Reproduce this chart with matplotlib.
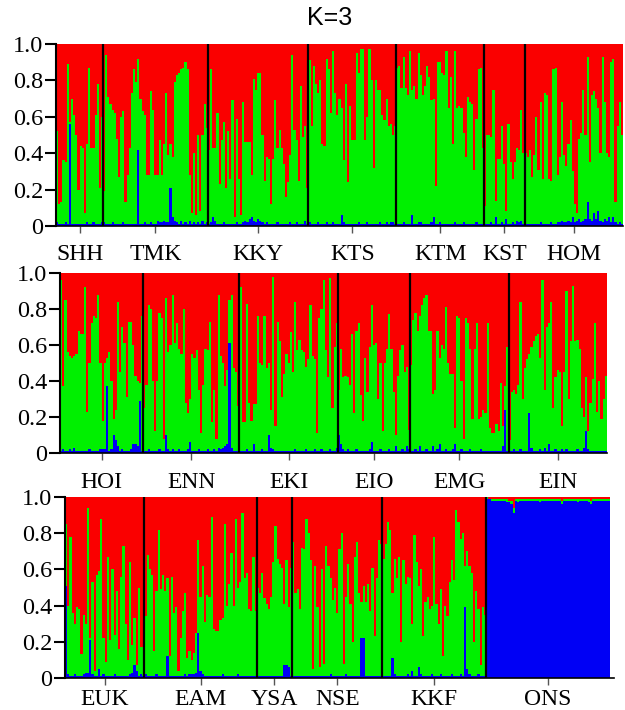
import numpy as np
import matplotlib
matplotlib.use("Agg")
import matplotlib.pyplot as plt

# ancestry proportions per individual: green = top of green segment (blue+green),
# blue = blue segment; red fills the rest up to 1.0

# ---- row 1 ----
SHH = [0.52, 0.12, 0.13, 0.36, 0.35, 0.89, 0.57, 0.70, 0.61, 0.50, 0.20, 0.44, 0.43, 0.07, 0.45, 0.87, 0.43, 0.43, 0.61, 0.78, 0.21, 0.60]
SHH_b = [0.02, 0.01, 0.01, 0.01, 0.02, 0.01, 0.56, 0.01, 0.01, 0.01, 0.01, 0.01, 0.01, 0.01, 0.02, 0.01, 0.01, 0.02, 0.01, 0.01, 0.01, 0.02]
TMK = [0.19, 0.94, 0.71, 0.67, 0.64, 0.62, 0.48, 0.27, 0.60, 0.63, 0.13, 0.28, 0.43, 0.73, 0.86, 0.79, 0.92, 0.70, 0.63, 0.61,
       0.28, 0.28, 0.74, 0.64, 0.28, 0.28, 0.47, 0.28, 0.45, 0.73, 0.39, 0.45, 0.38, 0.79, 0.83, 0.84, 0.86, 0.87, 0.90, 0.86,
       0.28, 0.07, 0.40, 0.06, 0.50, 0.08, 0.50, 0.67, 0.54]
TMK_b = [0.02, 0.01, 0.01, 0.01, 0.02, 0.01, 0.01, 0.01, 0.01, 0.02, 0.01, 0.01, 0.01, 0.01, 0.01, 0.01, 0.42, 0.01, 0.01, 0.02,
         0.01, 0.01, 0.02, 0.01, 0.01, 0.03, 0.02, 0.02, 0.03, 0.02, 0.02, 0.21, 0.05, 0.03, 0.02, 0.01, 0.03, 0.01, 0.02, 0.01,
         0.03, 0.01, 0.02, 0.01, 0.02, 0.01, 0.03, 0.01, 0.02]
KKY = [0.42, 0.86, 0.43, 0.43, 0.62, 0.23, 0.47, 0.57, 0.21, 0.52, 0.26, 0.69, 0.05, 0.59, 0.26, 0.06, 0.68, 0.46, 0.46, 0.46,
       0.28, 0.81, 0.75, 0.84, 0.84, 0.50, 0.25, 0.38, 0.37, 0.12, 0.37, 0.69, 0.43, 0.53, 0.43, 0.34, 0.16, 0.24, 0.39, 0.94,
       0.53, 0.47, 0.25, 0.77, 0.49, 0.55, 0.21]
KKY_b = [0.01, 0.02, 0.05, 0.03, 0.01, 0.01, 0.01, 0.02, 0.01, 0.01, 0.01, 0.01, 0.01, 0.02, 0.01, 0.01, 0.02, 0.03, 0.02, 0.04,
         0.05, 0.03, 0.02, 0.04, 0.03, 0.02, 0.01, 0.02, 0.01, 0.01, 0.01, 0.01, 0.02, 0.01, 0.01, 0.01, 0.01, 0.01, 0.02, 0.01,
         0.01, 0.02, 0.01, 0.01, 0.01, 0.03, 0.01]
KTS = [0.91, 0.55, 0.88, 0.78, 0.73, 0.80, 0.45, 0.44, 0.92, 0.86, 0.62, 0.96, 0.73, 0.61, 0.70, 0.65, 0.36, 0.78, 0.24, 0.66,
       0.47, 0.47, 0.95, 0.84, 0.97, 0.97, 0.47, 0.60, 0.97, 0.80, 0.32, 0.80, 0.75, 0.75, 0.61, 0.58, 0.70, 0.55, 0.56, 0.50, 0.55]
KTS_b = [0.02, 0.01, 0.01, 0.01, 0.02, 0.01, 0.01, 0.01, 0.02, 0.01, 0.01, 0.02, 0.01, 0.01, 0.01, 0.06, 0.02, 0.01, 0.01, 0.01,
         0.01, 0.01, 0.01, 0.02, 0.01, 0.01, 0.01, 0.02, 0.01, 0.01, 0.01, 0.01, 0.01, 0.02, 0.01, 0.01, 0.02, 0.01, 0.02, 0.02, 0.01]
KTM = [0.87, 0.88, 0.76, 0.93, 0.76, 0.72, 0.96, 0.75, 0.77, 0.70, 0.95, 0.83, 0.72, 0.77, 0.88, 0.82, 0.69, 0.70, 0.22, 0.90,
       0.90, 0.84, 0.83, 0.96, 0.65, 0.82, 0.45, 0.96, 0.65, 0.66, 0.65, 0.51, 0.38, 0.71, 0.68, 0.67, 0.31, 0.59, 0.86, 0.87, 0.43]
KTM_b = [0.01, 0.01, 0.01, 0.02, 0.01, 0.01, 0.01, 0.06, 0.01, 0.01, 0.02, 0.02, 0.01, 0.01, 0.01, 0.01, 0.02, 0.05, 0.01, 0.01,
         0.02, 0.01, 0.01, 0.01, 0.01, 0.01, 0.01, 0.02, 0.01, 0.01, 0.01, 0.02, 0.01, 0.01, 0.01, 0.01, 0.01, 0.02, 0.01, 0.01, 0.01]
KST = [0.11, 0.50, 0.50, 0.49, 0.75, 0.14, 0.37, 0.37, 0.55, 0.34, 0.08, 0.56, 0.35, 0.26, 0.35, 0.43, 0.42, 0.64, 0.40]
KST_b = [0.01, 0.01, 0.01, 0.02, 0.01, 0.05, 0.01, 0.01, 0.02, 0.01, 0.04, 0.01, 0.01, 0.02, 0.01, 0.03, 0.02, 0.03, 0.01]
HOM = [0.40, 0.38, 0.42, 0.27, 0.39, 0.60, 0.31, 0.68, 0.26, 0.73, 0.72, 0.26, 0.25, 0.86, 0.87, 0.28, 0.38, 0.68, 0.39, 0.33,
       0.45, 0.58, 0.30, 0.12, 0.07, 0.48, 0.51, 0.75, 0.50, 0.93, 0.35, 0.72, 0.74, 0.70, 0.65, 0.40, 0.93, 0.68, 0.40, 0.38,
       0.90, 0.92, 0.13, 0.55, 0.68, 0.50]
HOM_b = [0.01, 0.01, 0.01, 0.01, 0.01, 0.01, 0.01, 0.02, 0.01, 0.01, 0.01, 0.01, 0.02, 0.01, 0.01, 0.02, 0.02, 0.03, 0.02, 0.02,
         0.03, 0.02, 0.05, 0.02, 0.03, 0.04, 0.02, 0.03, 0.04, 0.13, 0.04, 0.03, 0.07, 0.04, 0.08, 0.03, 0.02, 0.04, 0.03, 0.05,
         0.02, 0.05, 0.02, 0.01, 0.02, 0.01]

# ---- row 2 ----
HOI = [0.96, 0.37, 0.85, 0.56, 0.54, 0.53, 0.54, 0.55, 0.68, 0.66, 0.66, 0.92, 0.23, 0.50, 0.72, 0.76, 0.75, 0.88, 0.50, 0.18,
       0.50, 0.53, 0.56, 0.40, 0.19, 0.24, 0.84, 0.45, 0.70, 0.61, 0.31, 0.73, 0.73, 0.60, 0.43, 0.40, 0.39, 0.76]
HOI_b = [0.01, 0.02, 0.01, 0.01, 0.02, 0.01, 0.03, 0.01, 0.01, 0.01, 0.01, 0.01, 0.01, 0.02, 0.01, 0.01, 0.01, 0.01, 0.02, 0.02,
         0.02, 0.37, 0.01, 0.02, 0.10, 0.07, 0.04, 0.01, 0.02, 0.01, 0.01, 0.01, 0.02, 0.05, 0.05, 0.04, 0.29, 0.01]
ENN = [0.25, 0.38, 0.82, 0.80, 0.40, 0.12, 0.40, 0.78, 0.75, 0.08, 0.86, 0.56, 0.60, 0.88, 0.61, 0.72, 0.58, 0.55, 0.80, 0.28,
       0.22, 0.30, 0.55, 0.53, 0.57, 0.35, 0.11, 0.38, 0.58, 0.57, 0.73, 0.17, 0.35, 0.08, 0.88, 0.54, 0.50, 0.37, 0.46, 0.85,
       0.88, 0.47, 0.45, 0.26]
ENN_b = [0.01, 0.01, 0.02, 0.01, 0.01, 0.01, 0.01, 0.02, 0.01, 0.01, 0.10, 0.02, 0.01, 0.02, 0.01, 0.01, 0.02, 0.01, 0.01, 0.01,
         0.02, 0.06, 0.01, 0.01, 0.01, 0.02, 0.01, 0.01, 0.01, 0.02, 0.01, 0.01, 0.02, 0.01, 0.03, 0.02, 0.03, 0.04, 0.05, 0.61,
         0.03, 0.01, 0.01, 0.01]
EKI = [0.92, 0.17, 0.17, 0.83, 0.28, 0.18, 0.27, 0.27, 0.76, 0.50, 0.49, 0.76, 0.47, 0.50, 0.24, 0.98, 0.15, 0.73, 0.62, 0.31,
       0.44, 0.55, 0.50, 0.67, 0.45, 0.84, 0.57, 0.63, 0.57, 0.56, 0.48, 0.52, 0.82, 0.54, 0.52, 0.11, 0.75, 0.80, 0.96, 0.57,
       0.42, 0.97, 0.25, 0.59, 0.72]
EKI_b = [0.01, 0.01, 0.01, 0.02, 0.01, 0.01, 0.05, 0.01, 0.01, 0.01, 0.02, 0.01, 0.01, 0.10, 0.03, 0.02, 0.01, 0.01, 0.01, 0.01,
         0.01, 0.01, 0.01, 0.01, 0.01, 0.02, 0.01, 0.01, 0.01, 0.01, 0.02, 0.01, 0.01, 0.01, 0.02, 0.01, 0.01, 0.02, 0.01, 0.01,
         0.01, 0.02, 0.01, 0.01, 0.03]
EIO = [0.35, 0.58, 0.42, 0.43, 0.42, 0.38, 0.66, 0.22, 0.68, 0.72, 0.32, 0.18, 0.53, 0.34, 0.59, 0.82, 0.60, 0.61, 0.30, 0.50,
       0.12, 0.50, 0.58, 0.77, 0.58, 0.34, 0.10, 0.43, 0.57, 0.60, 0.45, 0.48, 0.13]
EIO_b = [0.10, 0.05, 0.02, 0.01, 0.02, 0.01, 0.01, 0.01, 0.02, 0.01, 0.01, 0.01, 0.01, 0.01, 0.02, 0.06, 0.01, 0.01, 0.01, 0.02,
         0.01, 0.01, 0.01, 0.02, 0.01, 0.01, 0.04, 0.01, 0.01, 0.02, 0.01, 0.04, 0.02]
EMG = [0.49, 0.74, 0.78, 0.68, 0.76, 0.82, 0.86, 0.88, 0.68, 0.68, 0.33, 0.35, 0.68, 0.53, 0.60, 0.58, 0.81, 0.50, 0.44, 0.44,
       0.14, 0.76, 0.75, 0.40, 0.08, 0.75, 0.72, 0.58, 0.19, 0.58, 0.72, 0.19, 0.20, 0.24, 0.22, 0.72, 0.14, 0.11, 0.11, 0.16,
       0.12, 0.39, 0.15, 0.37, 0.59]
EMG_b = [0.01, 0.01, 0.02, 0.01, 0.04, 0.01, 0.01, 0.02, 0.01, 0.01, 0.04, 0.01, 0.02, 0.05, 0.01, 0.01, 0.02, 0.01, 0.01, 0.02,
         0.05, 0.01, 0.01, 0.02, 0.01, 0.01, 0.01, 0.02, 0.01, 0.01, 0.01, 0.01, 0.02, 0.01, 0.01, 0.01, 0.01, 0.01, 0.01, 0.01,
         0.01, 0.01, 0.04, 0.24, 0.01]
EIN = [0.07, 0.34, 0.35, 0.33, 0.38, 0.84, 0.30, 0.47, 0.52, 0.55, 0.59, 0.62, 0.65, 0.66, 0.53, 0.96, 0.35, 0.70, 0.72, 0.84,
       0.25, 0.42, 0.46, 0.45, 0.15, 0.45, 0.90, 0.30, 0.62, 0.93, 0.62, 0.63, 0.58, 0.25, 0.20, 0.42, 0.12, 0.28, 0.41, 0.72,
       0.23, 0.40, 0.19, 0.30, 0.43]
EIN_b = [0.01, 0.01, 0.02, 0.01, 0.01, 0.02, 0.01, 0.01, 0.01, 0.22, 0.03, 0.01, 0.01, 0.01, 0.02, 0.01, 0.03, 0.01, 0.05, 0.01,
         0.01, 0.02, 0.01, 0.01, 0.02, 0.01, 0.02, 0.01, 0.01, 0.01, 0.01, 0.02, 0.01, 0.01, 0.03, 0.12, 0.02, 0.01, 0.01, 0.01,
         0.01, 0.01, 0.01, 0.01, 0.01]

# ---- row 3 ----
EUK = [0.85, 0.40, 0.78, 0.36, 0.30, 0.39, 0.38, 0.13, 0.35, 0.30, 0.94, 0.22, 0.53, 0.04, 0.57, 0.59, 0.88, 0.22, 0.09, 0.67,
       0.21, 0.60, 0.24, 0.48, 0.16, 0.56, 0.73, 0.30, 0.10, 0.64, 0.18, 0.33, 0.07, 0.50, 0.17, 0.17]
EUK_b = [0.51, 0.02, 0.01, 0.01, 0.02, 0.01, 0.01, 0.01, 0.02, 0.03, 0.03, 0.21, 0.02, 0.01, 0.01, 0.05, 0.01, 0.02, 0.01, 0.01,
         0.01, 0.01, 0.02, 0.01, 0.01, 0.01, 0.01, 0.01, 0.01, 0.02, 0.03, 0.07, 0.04, 0.01, 0.02, 0.01]
EAM = [0.34, 0.68, 0.60, 0.57, 0.15, 0.48, 0.82, 0.49, 0.57, 0.48, 0.55, 0.12, 0.56, 0.36, 0.39, 0.04, 0.22, 0.37, 0.47, 0.11,
       0.15, 0.10, 0.14, 0.25, 0.76, 0.45, 0.62, 0.31, 0.46, 0.45, 0.89, 0.27, 0.26, 0.26, 0.32, 0.33, 0.85, 0.40, 0.52, 0.69,
       0.40, 0.88, 0.50, 0.53, 0.91, 0.55, 0.58, 0.38, 0.37, 0.67, 0.37]
EAM_b = [0.02, 0.01, 0.01, 0.01, 0.01, 0.02, 0.01, 0.01, 0.01, 0.01, 0.12, 0.01, 0.01, 0.01, 0.01, 0.01, 0.01, 0.01, 0.02, 0.01,
         0.02, 0.02, 0.02, 0.03, 0.25, 0.04, 0.02, 0.01, 0.01, 0.01, 0.01, 0.01, 0.01, 0.01, 0.01, 0.02, 0.01, 0.01, 0.01, 0.01,
         0.01, 0.01, 0.02, 0.01, 0.01, 0.01, 0.01, 0.01, 0.01, 0.01, 0.01]
YSA = [0.50, 0.47, 0.58, 0.44, 0.41, 0.38, 0.45, 0.64, 0.84, 0.66, 0.63, 0.61, 0.41, 0.65, 0.39, 0.61]
YSA_b = [0.01, 0.01, 0.01, 0.01, 0.01, 0.01, 0.01, 0.01, 0.01, 0.01, 0.01, 0.01, 0.07, 0.07, 0.06, 0.01]
NSE = [0.75, 0.47, 0.49, 0.38, 0.72, 0.71, 0.88, 0.80, 0.65, 0.05, 0.62, 0.39, 0.06, 0.60, 0.08, 0.73, 0.62, 0.55, 0.43, 0.50,
       0.36, 0.71, 0.80, 0.08, 0.45, 0.63, 0.41, 0.20, 0.67, 0.75, 0.47, 0.42, 0.51, 0.42, 0.52, 0.37, 0.61, 0.23, 0.55, 0.76, 0.74]
NSE_b = [0.01, 0.01, 0.01, 0.01, 0.01, 0.01, 0.01, 0.01, 0.01, 0.01, 0.01, 0.01, 0.01, 0.01, 0.01, 0.01, 0.01, 0.02, 0.01, 0.01,
         0.01, 0.01, 0.01, 0.01, 0.02, 0.01, 0.01, 0.01, 0.01, 0.01, 0.01, 0.22, 0.22, 0.01, 0.01, 0.01, 0.01, 0.01, 0.01, 0.01, 0.01]
KKF = [0.66, 0.74, 0.86, 0.82, 0.47, 0.66, 0.55, 0.67, 0.20, 0.65, 0.52, 0.56, 0.55, 0.30, 0.79, 0.64, 0.51, 0.60, 0.23, 0.42,
       0.45, 0.38, 0.40, 0.78, 0.41, 0.30, 0.49, 0.12, 0.40, 0.34, 0.53, 0.65, 0.54, 0.93, 0.86, 0.77, 0.80, 0.62, 0.70, 0.62,
       0.58, 0.20, 0.48, 0.38, 0.07, 0.39, 0.35]
KKF_b = [0.01, 0.01, 0.01, 0.01, 0.11, 0.02, 0.01, 0.01, 0.01, 0.01, 0.01, 0.02, 0.01, 0.04, 0.01, 0.01, 0.06, 0.02, 0.01, 0.01,
         0.01, 0.01, 0.02, 0.01, 0.01, 0.01, 0.02, 0.01, 0.01, 0.01, 0.01, 0.02, 0.01, 0.01, 0.01, 0.02, 0.01, 0.39, 0.05, 0.02,
         0.01, 0.01, 0.01, 0.02, 0.01, 0.01, 0.01]
ONS = [1.00, 0.99, 0.99, 0.99, 0.99, 0.99, 0.99, 0.99, 0.99, 0.99, 0.98, 0.98, 0.94, 0.99, 0.99, 0.99, 0.99, 0.99, 0.99, 0.99,
       0.99, 0.99, 0.99, 0.99, 0.99, 0.99, 0.99, 0.99, 0.99, 0.99, 0.99, 0.99, 0.99, 0.99, 0.98, 0.99, 0.99, 0.99, 0.99, 0.99,
       0.99, 0.99, 0.99, 0.99, 0.99, 0.99, 0.99, 0.98, 0.99, 0.99, 0.99, 0.99, 0.99, 0.99, 0.99, 0.99]
ONS_b = [0.99, 0.99, 0.98, 0.98, 0.98, 0.98, 0.98, 0.98, 0.98, 0.97, 0.97, 0.96, 0.91, 0.98, 0.97, 0.98, 0.98, 0.98, 0.98, 0.98,
         0.98, 0.98, 0.98, 0.98, 0.97, 0.98, 0.98, 0.98, 0.98, 0.98, 0.98, 0.98, 0.98, 0.98, 0.96, 0.98, 0.98, 0.98, 0.98, 0.98,
         0.98, 0.97, 0.98, 0.98, 0.98, 0.98, 0.97, 0.96, 0.98, 0.98, 0.98, 0.98, 0.98, 0.98, 0.98, 0.98]

rows = [
    [("SHH", SHH, SHH_b), ("TMK", TMK, TMK_b), ("KKY", KKY, KKY_b), ("KTS", KTS, KTS_b),
     ("KTM", KTM, KTM_b), ("KST", KST, KST_b), ("HOM", HOM, HOM_b)],
    [("HOI", HOI, HOI_b), ("ENN", ENN, ENN_b), ("EKI", EKI, EKI_b), ("EIO", EIO, EIO_b),
     ("EMG", EMG, EMG_b), ("EIN", EIN, EIN_b)],
    [("EUK", EUK, EUK_b), ("EAM", EAM, EAM_b), ("YSA", YSA, YSA_b), ("NSE", NSE, NSE_b),
     ("KKF", KKF, KKF_b), ("ONS", ONS, ONS_b)],
]

RED, GREEN, BLUE = "#fa0000", "#00f000", "#0000f5"
serif = "Liberation Serif"

W, H = 625, 710
fig = plt.figure(figsize=(W / 100, H / 100), dpi=100)

# axes boxes in pixels: left, right, top, bottom
boxes = [(56, 623, 44, 226), (60, 607, 273, 453), (65, 614, 497, 678)]
extra = [0, 0, 2]      # row 3 baseline runs a little past the last bar
label_pad = [8, 9, 3]  # gap between axis and population names

for (name_row, box, ext, lp) in zip(rows, boxes, extra, label_pad):
    l, r, t, b = box
    ax = fig.add_axes([l / W, (H - b) / H, (r - l) / W, (b - t) / H])
    green = np.concatenate([p[1] for p in name_row])
    blue = np.concatenate([p[2] for p in name_row])
    n = len(green)
    x = np.arange(n)
    kw = dict(width=1.0, align="edge", linewidth=0, antialiased=False)
    ax.bar(x, blue, color=BLUE, **kw)
    ax.bar(x, green - blue, bottom=blue, color=GREEN, **kw)
    ax.bar(x, 1 - green, bottom=green, color=RED, **kw)

    # population separators and label positions
    sizes = [len(p[1]) for p in name_row]
    edges = np.cumsum([0] + sizes)
    for e in edges[1:-1]:
        ax.axvline(e, color="black", lw=1.6, zorder=5)
    centers = (edges[:-1] + edges[1:]) / 2

    ax.set_xlim(0, n + ext)
    ax.set_ylim(0, 1)
    ax.set_xticks(centers)
    ax.set_xticklabels([p[0] for p in name_row], fontfamily=serif, fontsize=17)
    ax.tick_params(axis="x", length=5, width=1, color="#555555", pad=lp)
    ax.set_yticks([0, 0.2, 0.4, 0.6, 0.8, 1.0])
    ax.set_yticklabels(["0", "0.2", "0.4", "0.6", "0.8", "1.0"], fontfamily=serif, fontsize=17.5)
    ax.tick_params(axis="y", length=8, width=1.5, pad=1)
    for s in ["top", "right"]:
        ax.spines[s].set_visible(False)
    ax.spines["left"].set_linewidth(1.5)
    ax.spines["bottom"].set_linewidth(1.2)

fig.text(330 / W, 1 - 18 / H, "K=3", ha="center", va="center", fontsize=18, fontfamily="Liberation Sans")

fig.savefig("out.png", dpi=100)
